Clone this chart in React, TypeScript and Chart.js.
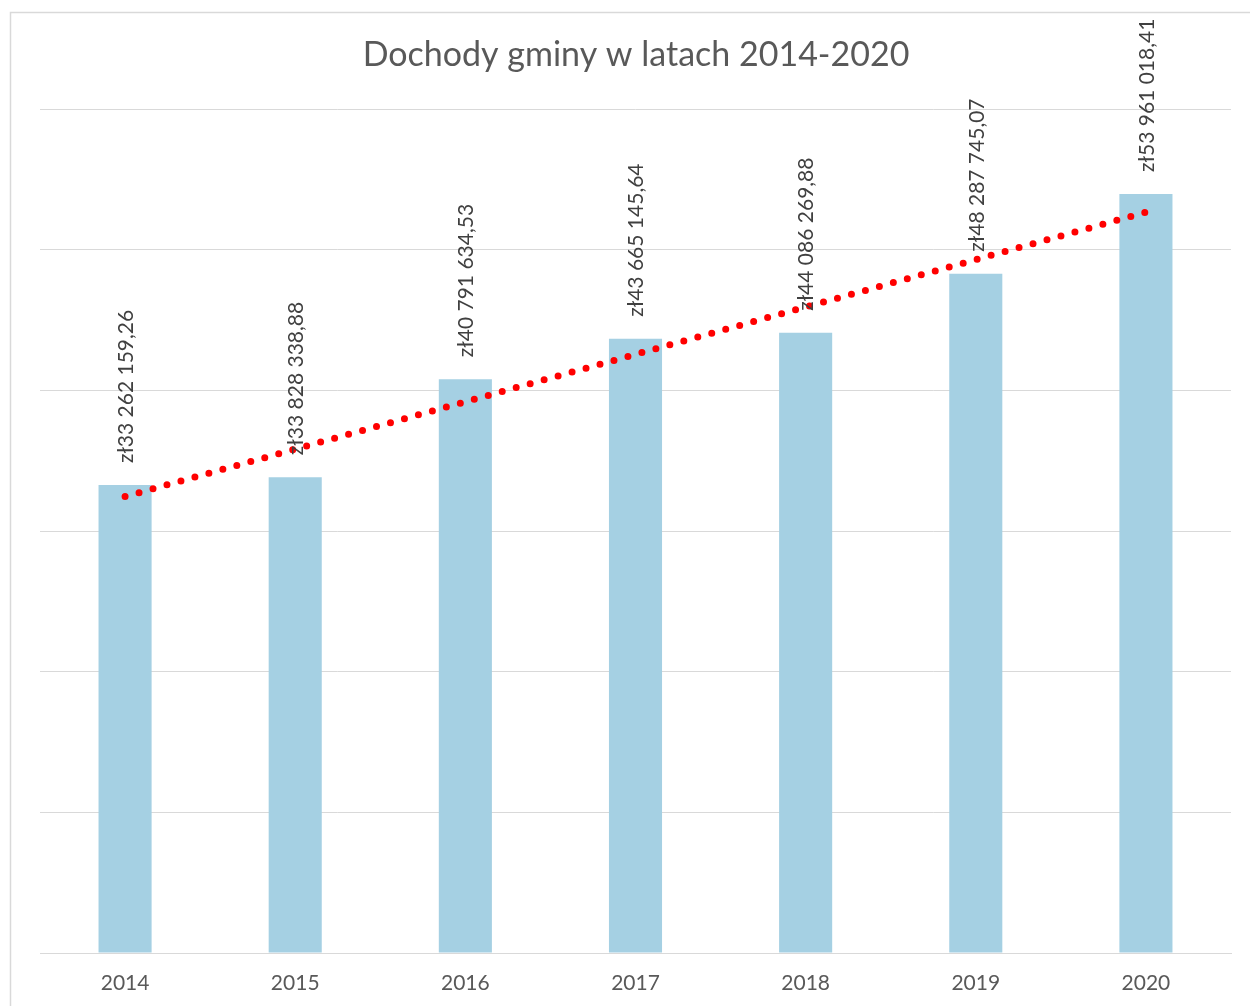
import React, { useEffect, useRef } from "react";
import { Chart, registerables } from "chart.js";

Chart.register(...registerables);

const chartTitle = "Dochody gminy w latach 2014-2020";
const years = ["2014", "2015", "2016", "2017", "2018", "2019", "2020"];
const revenues = [
  33262159.26, 33828338.88, 40791634.53, 43665145.64, 44086269.88, 48287745.07,
  53961018.41,
];
const yMin = 0;
const yMax = 60000000;
const yStep = 10000000;

const FONT = "Lato, 'Open Sans', sans-serif";

function formatPLN(v: number): string {
  const [intPart, dec] = v.toFixed(2).split(".");
  const grouped = intPart.replace(/\B(?=(\d{3})+(?!\d))/g, " ");
  return "zł" + grouped + "," + dec;
}

// Excel-style linear trendline computed from the series values
function linearTrend(values: number[]): number[] {
  const n = values.length;
  const mx = (n - 1) / 2;
  const my = values.reduce((a, b) => a + b, 0) / n;
  let num = 0;
  let den = 0;
  values.forEach((v, i) => {
    num += (i - mx) * (v - my);
    den += (i - mx) * (i - mx);
  });
  const slope = num / den;
  return values.map((_, i) => my + slope * (i - mx));
}

const framePlugin = {
  id: "frame",
  beforeDraw(chart: any) {
    const ctx = chart.ctx;
    ctx.save();
    ctx.fillStyle = "#ffffff";
    ctx.fillRect(0, 0, chart.width, chart.height);
    ctx.strokeStyle = "#d9d9d9";
    ctx.lineWidth = 1.5;
    ctx.strokeRect(10.5, 12.5, chart.width + 50, chart.height + 50);
    ctx.restore();
  },
};

const titlePlugin = {
  id: "customTitle",
  afterDraw(chart: any) {
    const ctx = chart.ctx;
    ctx.save();
    ctx.font = `34px ${FONT}`;
    ctx.fillStyle = "#595959";
    ctx.textAlign = "center";
    ctx.textBaseline = "middle";
    ctx.fillText(chartTitle, 636, 55);
    ctx.restore();
  },
};

const labelPlugin = {
  id: "barLabels",
  afterDatasetsDraw(chart: any) {
    const ctx = chart.ctx;
    const meta = chart.getDatasetMeta(0 + 1);
    ctx.save();
    ctx.font = `21px ${FONT}`;
    ctx.fillStyle = "#404040";
    ctx.textAlign = "left";
    ctx.textBaseline = "middle";
    meta.data.forEach((bar: any, i: number) => {
      ctx.save();
      ctx.translate(bar.x + 1, bar.y - 22);
      ctx.rotate(-Math.PI / 2);
      ctx.fillText(formatPLN(revenues[i]), 0, 0);
      ctx.restore();
    });
    ctx.restore();
  },
};

export default function App() {
  const ref = useRef<HTMLCanvasElement | null>(null);

  useEffect(() => {
    if (!ref.current) return;
    const chart = new Chart(ref.current, {
      type: "bar",
      data: {
        labels: years,
        datasets: [
          {
            type: "line",
            label: "Trend",
            data: linearTrend(revenues),
            borderColor: "#ff0000",
            borderWidth: 7,
            borderDash: [0, 14.5],
            borderCapStyle: "round",
            pointRadius: 0,
            fill: false,
            order: 0,
          } as any,
          {
            type: "bar",
            label: "Dochody",
            data: revenues,
            backgroundColor: "#a5d0e3",
            borderWidth: 0,
            barPercentage: 0.312,
            categoryPercentage: 1,
            order: 1,
          } as any,
        ],
      },
      options: {
        responsive: false,
        animation: false,
        layout: { padding: { left: 40, right: 19, top: 109, bottom: 0 } },
        plugins: {
          legend: { display: false },
          title: { display: false },
          tooltip: { enabled: false },
        },
        scales: {
          x: {
            grid: { display: false },
            border: { display: true, color: "#d9d9d9", width: 1 },
            ticks: {
              color: "#595959",
              font: { family: FONT, size: 21 },
              padding: 10,
              maxRotation: 0,
            },
            afterFit(scale: any) {
              scale.height = 53;
            },
          },
          y: {
            min: yMin,
            max: yMax,
            ticks: { display: false, stepSize: yStep },
            grid: { color: "#d9d9d9", lineWidth: 1, drawTicks: false },
            border: { display: false },
            afterFit(scale: any) {
              scale.width = 0;
            },
          },
        },
      },
      plugins: [framePlugin, titlePlugin, labelPlugin],
    });
    return () => chart.destroy();
  }, []);

  return (
    <div style={{ position: "absolute", left: 0, top: 0, width: 1250, height: 1006 }}>
      <canvas ref={ref} width={1250} height={1006} style={{ width: 1250, height: 1006 }} />
    </div>
  );
}
